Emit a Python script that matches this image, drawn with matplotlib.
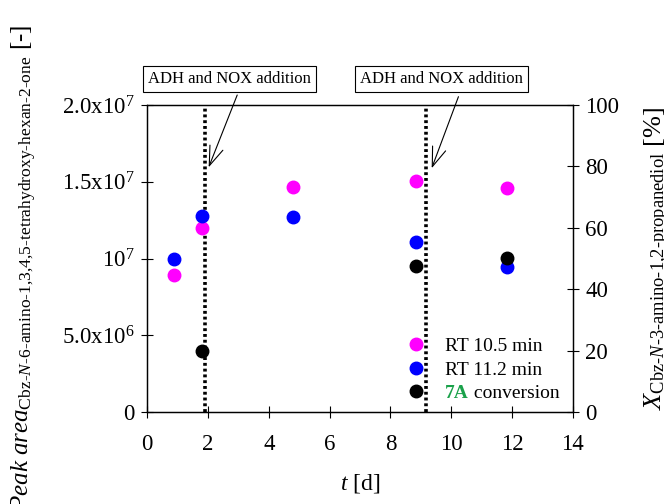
import numpy as np
import matplotlib
matplotlib.use("Agg")
import matplotlib.pyplot as plt
from matplotlib.lines import Line2D

plt.rcParams["font.family"] = "Liberation Serif"
plt.rcParams["mathtext.fontset"] = "custom"
plt.rcParams["mathtext.rm"] = "Liberation Serif"
plt.rcParams["mathtext.it"] = "Liberation Serif:italic"
plt.rcParams["mathtext.bf"] = "Liberation Serif:bold"

# --------------------------------------------------
# Data
# --------------------------------------------------
t_peak = [0.89, 1.79, 4.81, 8.83, 11.83]
rt_105 = [8.9e6, 1.20e7, 1.464e7, 1.507e7, 1.457e7]
rt_112 = [1.0e7, 1.277e7, 1.272e7, 1.106e7, 0.947e7]

t_conv = [1.79, 8.83, 11.83]
conv_7a = [19.9, 47.6, 50.1]

t_addition = [1.91, 9.16]
box_pos = [(2.72, 2.17e7), (9.68, 2.17e7)]
arrow_start = [(2.96, 2.065e7), (10.24, 2.054e7)]
arrow_tip = [(2.02, 1.594e7), (9.36, 1.588e7)]

yticks = [0, 5e6, 1e7, 1.5e7, 2e7]
ytick_labels = ["0", r"5.0x10$^6$", r"10$^7$", r"1.5x10$^7$", r"2.0x10$^7$"]

# --------------------------------------------------
# Plot
# --------------------------------------------------
fig = plt.figure(figsize=(6.64, 5.04), dpi=100)
ax = fig.add_axes([0.2218, 0.1825, 0.6407, 0.6092])
ax2 = ax.twinx()

ax.plot(t_peak, rt_105, "o", color="#ff00ff", markersize=9, zorder=3)
ax.plot(t_peak, rt_112, "o", color="#0000ff", markersize=9, zorder=3)
ax2.plot(t_conv, conv_7a, "o", color="black", markersize=9, zorder=3)

for t in t_addition:
    ax.axvline(t, color="black", linestyle=(0, (0.8, 0.8)), linewidth=2.6, zorder=2)

for (bx, by), (sx, sy), (tx, ty) in zip(box_pos, arrow_start, arrow_tip):
    ax.text(bx, by, "ADH and NOX addition", fontsize=12, ha="center", va="center",
            clip_on=False,
            bbox=dict(boxstyle="square,pad=0.3", facecolor="white",
                      edgecolor="black", linewidth=0.8))
    ax.annotate("", xy=(tx, ty), xytext=(sx, sy), annotation_clip=False,
                arrowprops=dict(arrowstyle="->,head_length=0.7,head_width=0.25",
                                color="black", linewidth=0.8,
                                mutation_scale=20, shrinkA=0, shrinkB=0))

ax.set_xlim(0, 14)
ax.set_ylim(0, 2e7)
ax2.set_ylim(0, 100)
ax.set_xticks(np.arange(0, 15, 2))
ax.set_yticks(yticks)
ax.set_yticklabels(ytick_labels)
ax2.set_yticks(np.arange(0, 101, 20))

for a in (ax, ax2):
    a.tick_params(direction="inout", length=8, width=0.8, labelsize=16.5, pad=5)
    for s in a.spines.values():
        s.set_linewidth(0.9)
ax.tick_params(axis="x", pad=12)

ax.set_xlabel(r"$\mathit{t}$ [d]", fontsize=17, labelpad=12)
ax.set_ylabel(r"$\mathit{Peak\ area}_{\text{Cbz-}\mathit{N}\text{-6-amino-1,3,4,5-tetrahydroxy-hexan-2-one}}$ [-]",
              fontsize=18)
ax.yaxis.set_label_coords(-0.255, 0.47)
ax2.set_ylabel(r"$\mathit{X}_{\text{Cbz-}\mathit{N}\text{-3-amino-1,2-propanediol}}$ [%]",
               fontsize=19, labelpad=17, rotation=90)

handles = [
    Line2D([], [], ls="none", marker="o", color="#ff00ff", markersize=9),
    Line2D([], [], ls="none", marker="o", color="#0000ff", markersize=9),
    Line2D([], [], ls="none", marker="o", color="black", markersize=9),
]
leg = ax2.legend(handles, ["RT 10.5 min", "RT 11.2 min", "7A conversion"],
                 loc="lower right", bbox_to_anchor=(0.976, 0.02), frameon=False,
                 fontsize=14, handlelength=1.0, handletextpad=1.0,
                 labelspacing=0.3, borderpad=0.2, borderaxespad=0)

# "7A" in green bold, rest of the label in black
fig.canvas.draw()
renderer = fig.canvas.get_renderer()
lab = leg.get_texts()[2]
bb = lab.get_window_extent(renderer)
lab.set_color("none")
inv = fig.transFigure.inverted()
x0, y0 = inv.transform((bb.x0, bb.y0))
t1 = fig.text(x0, y0, "7A", fontsize=14, fontweight="bold", color="#1aa14a",
              ha="left", va="bottom")
ax2.annotate(" conversion", xy=(1, 0), xycoords=t1, fontsize=14,
             ha="left", va="bottom")

fig.savefig("out.png", dpi=100)
